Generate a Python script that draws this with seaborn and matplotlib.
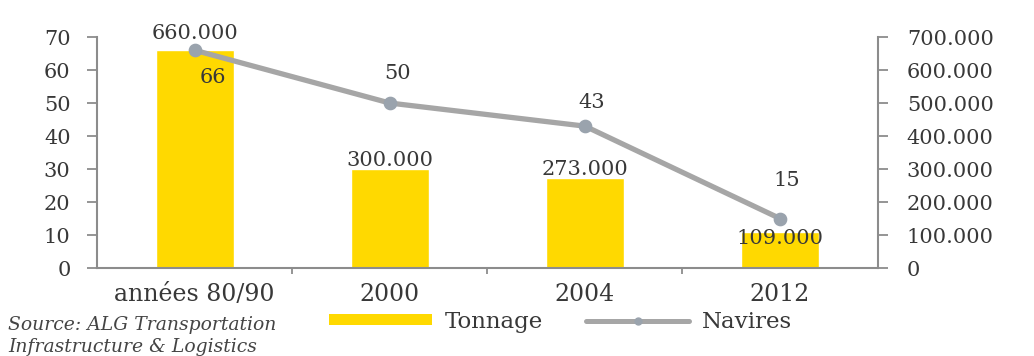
import matplotlib
matplotlib.use("Agg")
import matplotlib.pyplot as plt
import seaborn as sns
import pandas as pd
from matplotlib.patches import Patch
from matplotlib.lines import Line2D

# ---- data ----
categories = ["années 80/90", "2000", "2004", "2012"]
tonnage = [660000, 300000, 273000, 109000]
navires = [66, 50, 43, 15]
left_ticks = [0, 10, 20, 30, 40, 50, 60, 70]
right_ticks = [0, 100000, 200000, 300000, 400000, 500000, 600000, 700000]
right_tick_labels = ["0", "100.000", "200.000", "300.000", "400.000", "500.000", "600.000", "700.000"]
source_lines = ["Source: ALG Transportation", "Infrastructure & Logistics"]

# ---- style ----
YELLOW = "#FFD900"
LINE_GRAY = "#A6A6A6"
MARKER_GRAY = "#9AA3AD"
SPINE = "#8C8C8C"
TXT = "#383838"
bar_label_offsets = [(0, 17), (0, 9), (0, 8), (0, -6)]     # pixels
line_label_offsets = [(18, -27), (8, 30), (7, 24), (7, 38)]  # pixels

sns.set_theme(style="white")
plt.rcParams["font.family"] = ["DejaVu Serif"]

df = pd.DataFrame({"cat": categories, "tonnage": tonnage, "navires": navires})

fig = plt.figure(figsize=(10.34, 3.56), dpi=100)
ax = fig.add_axes([0.0938, 0.247, 0.755, 0.649])

sns.barplot(data=df, x="cat", y="tonnage", color=YELLOW, saturation=1,
            width=0.4, ax=ax, zorder=2)
ax.set_ylim(0, 700000)

ax2 = ax.twinx()
sns.pointplot(data=df, x="cat", y="navires", ax=ax2, color=LINE_GRAY,
              markers="o", linestyles="-", markersize=7, linewidth=3.8,
              markerfacecolor=MARKER_GRAY, markeredgecolor=MARKER_GRAY)
ax2.set_ylim(0, 70)

# swap sides: tonnage scale on the right, navires on the left
ax.yaxis.tick_right()
ax.yaxis.set_label_position("right")
ax2.yaxis.tick_left()
ax2.yaxis.set_label_position("left")

ax.set_yticks(right_ticks)
ax.set_yticklabels(right_tick_labels)
ax2.set_yticks(left_ticks)
ax2.set_yticklabels([str(t) for t in left_ticks])

for a in (ax, ax2):
    a.set_xlabel("")
    a.set_ylabel("")
    for s in a.spines.values():
        s.set_visible(False)
        s.set_color(SPINE)
        s.set_linewidth(1.5)

ax.spines["bottom"].set_visible(True)
ax.spines["right"].set_visible(True)
ax2.spines["left"].set_visible(True)

ax.tick_params(axis="y", which="major", right=True, left=False, direction="out",
               length=7, width=1.3, color=SPINE, pad=14, labelsize=15, labelcolor=TXT)
ax2.tick_params(axis="y", which="major", left=True, right=False, direction="out",
                length=7, width=1.3, color=SPINE, pad=12, labelsize=15, labelcolor=TXT)

ax.set_xlim(-0.5, 3.5)
ax.set_xticks(range(len(categories)))
ax.set_xticklabels(categories)
ax.set_xticks([0.5, 1.5, 2.5], minor=True)
ax.tick_params(axis="x", which="major", length=0, pad=11, labelsize=17, labelcolor=TXT)
ax.tick_params(axis="x", which="minor", bottom=True, length=4, width=1.3,
               color=SPINE, direction="out")
ax2.tick_params(axis="x", which="both", bottom=False, top=False, labelbottom=False)

# labels
for i, v in enumerate(tonnage):
    ax.annotate(f"{v:,}".replace(",", "."), (i, v), xytext=bar_label_offsets[i],
                textcoords="offset pixels", ha="center", va="center",
                fontsize=15, color=TXT, zorder=5)
for i, v in enumerate(navires):
    ax2.annotate(str(v), (i, v), xytext=line_label_offsets[i],
                 textcoords="offset pixels", ha="center", va="center",
                 fontsize=15, color=TXT, zorder=5)

# legend
handles = [Patch(facecolor=YELLOW, edgecolor="none"),
           Line2D([0], [0], color=LINE_GRAY, lw=3.6, marker="o", markersize=5,
                  markerfacecolor=MARKER_GRAY, markeredgecolor=MARKER_GRAY)]
fig.legend(handles, ["Tonnage", "Navires"], loc="center", bbox_to_anchor=(0.542, 0.096),
           ncol=2, frameon=False, fontsize=16.5, handlelength=4.5, handleheight=0.35,
           handletextpad=0.55, columnspacing=1.9, labelcolor=TXT)

# source
fig.text(0.008, 0.087, source_lines[0], ha="left", va="center", fontsize=13.5,
         style="italic", color="#444444")
fig.text(0.008, 0.025, source_lines[1], ha="left", va="center", fontsize=13.5,
         style="italic", color="#444444")

fig.savefig("out.png", dpi=100)
